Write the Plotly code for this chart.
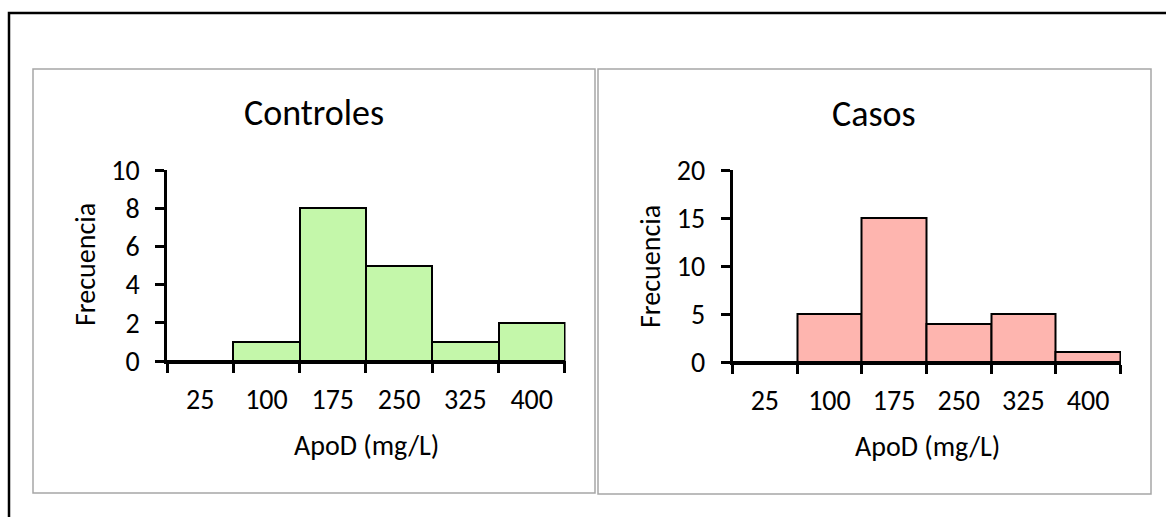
import plotly.graph_objects as go

# Histogram bins (ApoD, mg/L) and frequencies per group
bins = ["25", "100", "175", "250", "325", "400"]
controles = [0, 1, 8, 5, 1, 2]
casos = [0, 5, 15, 4, 5, 1]

W, H = 1166, 517
FONT = "Carlito, Calibri, Lato, sans-serif"


def px(x):
    return x / W


def py(y):
    return 1 - y / H


centers = [i + 0.5 for i in range(len(bins))]

fig = go.Figure()
fig.add_trace(go.Bar(
    x=centers, y=controles, width=1, xaxis="x", yaxis="y",
    marker=dict(color="#C4F7AA", line=dict(color="black", width=2)),
    showlegend=False,
))
fig.add_trace(go.Bar(
    x=centers, y=casos, width=1, xaxis="x2", yaxis="y2",
    marker=dict(color="#FEB5AF", line=dict(color="black", width=2)),
    showlegend=False,
))


def xaxis_cfg(x0, x1):
    return dict(
        domain=[px(x0), px(x1)], range=[0, 6.01],
        tickvals=centers, ticktext=bins, ticks="",
        ticklabelstandoff=12, automargin=False,
        minor=dict(tick0=0, dtick=1, ticks="outside", ticklen=9,
                   tickwidth=2.5, tickcolor="black"),
        showline=True, linecolor="black", linewidth=2.5,
        showgrid=False, zeroline=False, fixedrange=True,
        tickfont=dict(family=FONT, size=28, color="black"),
    )


def yaxis_cfg(y0, y1, ymax, dtick, anchor):
    return dict(
        domain=[py(y1), py(y0)], range=[0, ymax], dtick=dtick,
        ticks="outside", ticklen=9, tickwidth=2.5, tickcolor="black",
        ticklabelstandoff=10, automargin=False,
        showline=True, linecolor="black", linewidth=2.5,
        showgrid=False, zeroline=False, fixedrange=True, anchor=anchor,
        tickfont=dict(family=FONT, size=28, color="black"),
    )


fig.update_layout(
    width=W, height=H,
    margin=dict(l=0, r=0, t=0, b=0, pad=0, autoexpand=False),
    paper_bgcolor="white", plot_bgcolor="white",
    bargap=0,
    xaxis=dict(xaxis_cfg(167, 565.5), anchor="y"),
    yaxis=yaxis_cfg(170, 361, 10, 2, "x"),
    xaxis2=dict(xaxis_cfg(732.5, 1121), anchor="y2"),
    yaxis2=yaxis_cfg(170, 362, 20, 5, "x2"),
)

# Outer frame and the two chart panels
shapes = [
    dict(type="rect", xref="paper", yref="paper",
         x0=px(9), x1=px(1175), y0=py(13), y1=py(530),
         line=dict(color="black", width=2.5)),
    dict(type="rect", xref="paper", yref="paper",
         x0=px(33), x1=px(595), y0=py(69), y1=py(493),
         line=dict(color="#A6A6A6", width=1.5)),
    dict(type="rect", xref="paper", yref="paper",
         x0=px(598), x1=px(1151), y0=py(69), y1=py(494),
         line=dict(color="#A6A6A6", width=1.5)),
]
fig.update_layout(shapes=shapes)

texts = [
    ("Controles", 313.5, 113, 36, 0),
    ("Casos", 874, 114, 36, 0),
    ("Frecuencia", 85, 265, 28, -90),
    ("Frecuencia", 650, 266, 28, -90),
    ("ApoD (mg/L)", 366, 445, 28, 0),
    ("ApoD (mg/L)", 927, 446.5, 28, 0),
]
for t, x, y, s, ang in texts:
    fig.add_annotation(
        text=t, xref="paper", yref="paper", x=px(x), y=py(y),
        xanchor="center", yanchor="middle", showarrow=False, textangle=ang,
        font=dict(family=FONT, size=s, color="black"),
    )

fig.write_html("out.html")
